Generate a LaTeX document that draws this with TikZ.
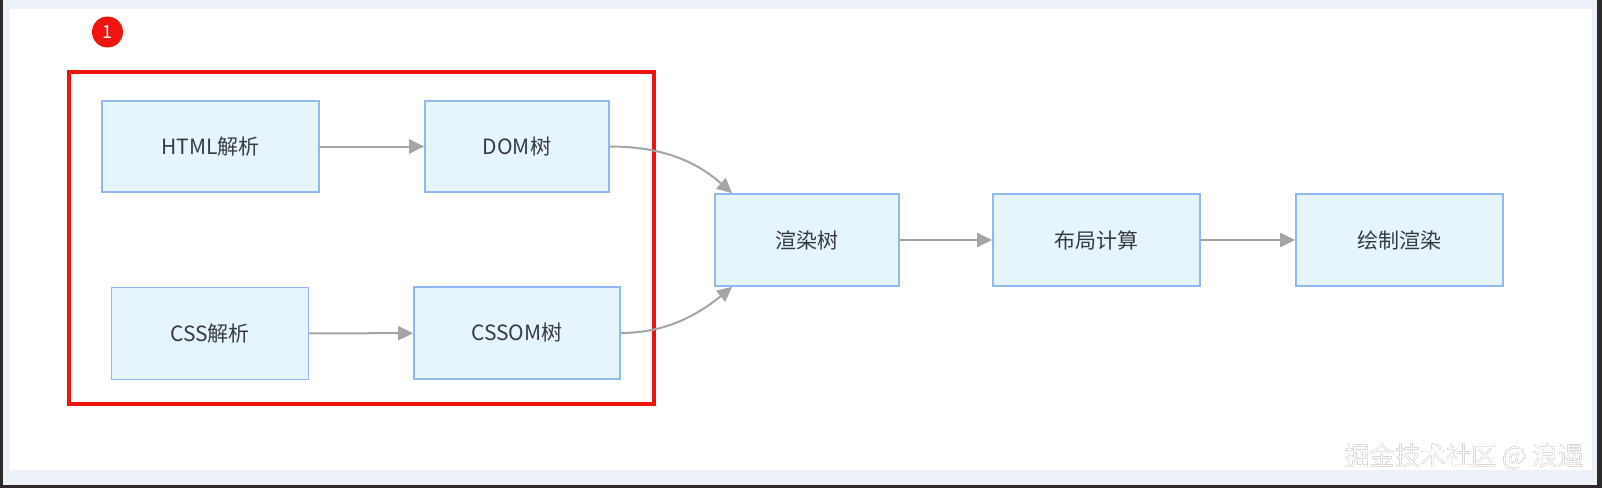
\documentclass[tikz,border=0pt]{standalone}
\usepackage{fontspec}
\setmainfont{Noto Sans CJK SC}
\usepackage[outline]{contour}
\usetikzlibrary{arrows.meta}
\definecolor{boxfill}{HTML}{E6F4FD}
\definecolor{boxline}{HTML}{91B8F5}
\definecolor{txt}{HTML}{363B40}
\definecolor{arr}{HTML}{A5A5A5}
\definecolor{frame}{HTML}{F01410}
\definecolor{outer}{HTML}{2B2B2B}
\definecolor{strip}{HTML}{EEF2F8}
\tikzset{
  stagebox/.style={draw=boxline, fill=boxfill, line width=1.6pt, text=txt,
    minimum height=91pt, inner sep=0pt, font=\fontsize{21}{25}\selectfont},
  flow/.style={draw=arr, line width=2pt, -{Triangle[length=15pt,width=14pt]}},
}
\contourlength{0.8pt}
\begin{document}
\begin{tikzpicture}[x=1pt,y=-1pt]
\useasboundingbox (0,0) rectangle (1602,488);
\fill[outer] (0,0) rectangle (1602,488);
\fill[strip] (3,0) rectangle (1597,485);
\fill[white] (10,9) rectangle (1592,470);

\node[circle, fill=frame, minimum size=31pt, inner sep=0pt, text=white,
  font=\fontsize{18}{20}\selectfont] (badge) at (107.5,32) {1};
\draw[frame, line width=4pt] (69,72) rectangle (654,404);

\node[stagebox, minimum width=217pt] (html) at (210.5,146.5) {HTML解析};
\node[stagebox, minimum width=184pt] (dom) at (517,146.5) {DOM树};
\node[stagebox, minimum width=197pt, minimum height=92pt] (css) at (210,333.5) {CSS解析};
\node[stagebox, minimum width=206pt, minimum height=92pt] (cssom) at (517,333) {CSSOM树};
\node[stagebox, minimum width=184pt, minimum height=92pt] (render) at (807,240) {渲染树};
\node[stagebox, minimum width=207pt, minimum height=92pt] (layout) at (1096.5,240) {布局计算};
\node[stagebox, minimum width=207pt, minimum height=92pt] (paint) at (1399.5,240) {绘制渲染};

\coordinate (rtop) at ([xshift=18pt]render.north west);
\coordinate (rbot) at ([xshift=18pt]render.south west);

\draw[flow] (html) -- (dom);
\draw[flow] (css) -- (cssom);
\draw[flow] (dom.east) .. controls (668,146.5) and (700,165) .. (rtop);
\draw[flow] (cssom.east) .. controls (668,333) and (700,313) .. (rbot);
\draw[flow] (render) -- (layout);
\draw[flow] (layout) -- (paint);

\node[anchor=east, inner sep=0pt, text=white, font=\fontsize{25.5}{30}\selectfont]
  (mark) at (1584,457) {\contour{gray!75!black}{掘金技术社区 @ 浪遏}};
\end{tikzpicture}
\end{document}
